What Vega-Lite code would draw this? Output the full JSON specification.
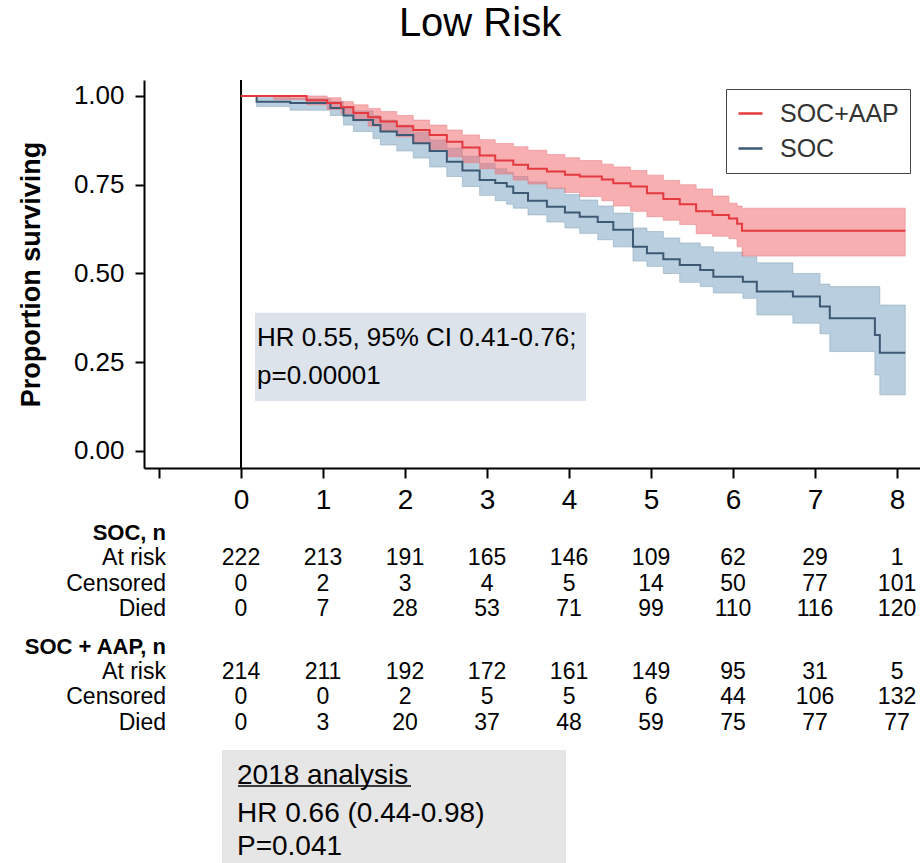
{
  "$schema": "https://vega.github.io/schema/vega-lite/v6.json",
  "width": 776,
  "height": 388,
  "autosize": {"type": "none"},
  "padding": {"left": 144, "top": 80, "right": 0, "bottom": 395},
  "background": "white",
  "title": {"text": "Low Risk", "fontSize": 40, "font": "Liberation Sans", "fontWeight": "normal", "color": "black", "anchor": "middle", "dx": -52, "dy": -31},
  "datasets": {
    "km": [
      {"arm": "SOC+AAP", "t": 0, "s": 1.0, "hi": 1.0, "lo": 1.0},
      {"arm": "SOC+AAP", "t": 0.4, "s": 1.0, "hi": 1.0, "lo": 0.99},
      {"arm": "SOC+AAP", "t": 0.8, "s": 0.988, "hi": 1.0, "lo": 0.975},
      {"arm": "SOC+AAP", "t": 1.05, "s": 0.98, "hi": 0.995, "lo": 0.962},
      {"arm": "SOC+AAP", "t": 1.22, "s": 0.968, "hi": 0.984, "lo": 0.95},
      {"arm": "SOC+AAP", "t": 1.37, "s": 0.952, "hi": 0.975, "lo": 0.93},
      {"arm": "SOC+AAP", "t": 1.55, "s": 0.94, "hi": 0.965, "lo": 0.915},
      {"arm": "SOC+AAP", "t": 1.7, "s": 0.928, "hi": 0.956, "lo": 0.902},
      {"arm": "SOC+AAP", "t": 1.9, "s": 0.915, "hi": 0.945, "lo": 0.885},
      {"arm": "SOC+AAP", "t": 2.1, "s": 0.904, "hi": 0.932, "lo": 0.868},
      {"arm": "SOC+AAP", "t": 2.3, "s": 0.89, "hi": 0.918, "lo": 0.85},
      {"arm": "SOC+AAP", "t": 2.51, "s": 0.871, "hi": 0.904, "lo": 0.829},
      {"arm": "SOC+AAP", "t": 2.7, "s": 0.855, "hi": 0.89, "lo": 0.812},
      {"arm": "SOC+AAP", "t": 2.91, "s": 0.832, "hi": 0.877, "lo": 0.795},
      {"arm": "SOC+AAP", "t": 3.1, "s": 0.818, "hi": 0.866, "lo": 0.78},
      {"arm": "SOC+AAP", "t": 3.32, "s": 0.806, "hi": 0.857, "lo": 0.763},
      {"arm": "SOC+AAP", "t": 3.5, "s": 0.795, "hi": 0.847, "lo": 0.752},
      {"arm": "SOC+AAP", "t": 3.73, "s": 0.787, "hi": 0.835, "lo": 0.74},
      {"arm": "SOC+AAP", "t": 3.95, "s": 0.778, "hi": 0.826, "lo": 0.728},
      {"arm": "SOC+AAP", "t": 4.13, "s": 0.773, "hi": 0.818, "lo": 0.717},
      {"arm": "SOC+AAP", "t": 4.4, "s": 0.765, "hi": 0.808, "lo": 0.705},
      {"arm": "SOC+AAP", "t": 4.54, "s": 0.754, "hi": 0.8, "lo": 0.69},
      {"arm": "SOC+AAP", "t": 4.75, "s": 0.745, "hi": 0.79, "lo": 0.675},
      {"arm": "SOC+AAP", "t": 4.95, "s": 0.726, "hi": 0.777, "lo": 0.66},
      {"arm": "SOC+AAP", "t": 5.15, "s": 0.71, "hi": 0.762, "lo": 0.65},
      {"arm": "SOC+AAP", "t": 5.35, "s": 0.695, "hi": 0.75, "lo": 0.638},
      {"arm": "SOC+AAP", "t": 5.55, "s": 0.675, "hi": 0.738, "lo": 0.612},
      {"arm": "SOC+AAP", "t": 5.75, "s": 0.665, "hi": 0.718, "lo": 0.605},
      {"arm": "SOC+AAP", "t": 5.95, "s": 0.655, "hi": 0.698, "lo": 0.598},
      {"arm": "SOC+AAP", "t": 6.05, "s": 0.64, "hi": 0.69, "lo": 0.575},
      {"arm": "SOC+AAP", "t": 6.11, "s": 0.62, "hi": 0.684, "lo": 0.549},
      {"arm": "SOC+AAP", "t": 8.1, "s": 0.62, "hi": 0.684, "lo": 0.549},
      {"arm": "SOC", "t": 0, "s": 1.0, "hi": 1.0, "lo": 1.0},
      {"arm": "SOC", "t": 0.19, "s": 0.984, "hi": 0.995, "lo": 0.97},
      {"arm": "SOC", "t": 0.6, "s": 0.98, "hi": 0.993, "lo": 0.96},
      {"arm": "SOC", "t": 1.09, "s": 0.966, "hi": 0.985, "lo": 0.945},
      {"arm": "SOC", "t": 1.25, "s": 0.945, "hi": 0.97, "lo": 0.918},
      {"arm": "SOC", "t": 1.37, "s": 0.932, "hi": 0.958, "lo": 0.9},
      {"arm": "SOC", "t": 1.61, "s": 0.918, "hi": 0.945, "lo": 0.88},
      {"arm": "SOC", "t": 1.7, "s": 0.9, "hi": 0.932, "lo": 0.862},
      {"arm": "SOC", "t": 1.9, "s": 0.89, "hi": 0.918, "lo": 0.845},
      {"arm": "SOC", "t": 2.1, "s": 0.867, "hi": 0.898, "lo": 0.825},
      {"arm": "SOC", "t": 2.3, "s": 0.845, "hi": 0.876, "lo": 0.8},
      {"arm": "SOC", "t": 2.51, "s": 0.815, "hi": 0.853, "lo": 0.773},
      {"arm": "SOC", "t": 2.7, "s": 0.79, "hi": 0.83, "lo": 0.745},
      {"arm": "SOC", "t": 2.91, "s": 0.763, "hi": 0.81, "lo": 0.72},
      {"arm": "SOC", "t": 3.1, "s": 0.755, "hi": 0.795, "lo": 0.705},
      {"arm": "SOC", "t": 3.24, "s": 0.745, "hi": 0.785, "lo": 0.695},
      {"arm": "SOC", "t": 3.32, "s": 0.727, "hi": 0.773, "lo": 0.684},
      {"arm": "SOC", "t": 3.5, "s": 0.705, "hi": 0.758, "lo": 0.665},
      {"arm": "SOC", "t": 3.73, "s": 0.688, "hi": 0.74, "lo": 0.645},
      {"arm": "SOC", "t": 3.95, "s": 0.672, "hi": 0.722, "lo": 0.628},
      {"arm": "SOC", "t": 4.13, "s": 0.66, "hi": 0.707, "lo": 0.613},
      {"arm": "SOC", "t": 4.35, "s": 0.645, "hi": 0.69, "lo": 0.595},
      {"arm": "SOC", "t": 4.54, "s": 0.623, "hi": 0.67, "lo": 0.575},
      {"arm": "SOC", "t": 4.78, "s": 0.575, "hi": 0.628, "lo": 0.535},
      {"arm": "SOC", "t": 4.95, "s": 0.557, "hi": 0.618, "lo": 0.52},
      {"arm": "SOC", "t": 5.15, "s": 0.54, "hi": 0.6, "lo": 0.5},
      {"arm": "SOC", "t": 5.35, "s": 0.524, "hi": 0.586, "lo": 0.475},
      {"arm": "SOC", "t": 5.6, "s": 0.51, "hi": 0.575, "lo": 0.463},
      {"arm": "SOC", "t": 5.76, "s": 0.491, "hi": 0.56, "lo": 0.445},
      {"arm": "SOC", "t": 6.12, "s": 0.477, "hi": 0.547, "lo": 0.43},
      {"arm": "SOC", "t": 6.29, "s": 0.449, "hi": 0.53, "lo": 0.383},
      {"arm": "SOC", "t": 6.73, "s": 0.435, "hi": 0.5, "lo": 0.36},
      {"arm": "SOC", "t": 7.06, "s": 0.407, "hi": 0.47, "lo": 0.33},
      {"arm": "SOC", "t": 7.18, "s": 0.374, "hi": 0.463, "lo": 0.28},
      {"arm": "SOC", "t": 7.73, "s": 0.327, "hi": 0.463, "lo": 0.214},
      {"arm": "SOC", "t": 7.79, "s": 0.277, "hi": 0.411, "lo": 0.158},
      {"arm": "SOC", "t": 8.1, "s": 0.277, "hi": 0.411, "lo": 0.158}
    ],
    "table": [
      {"row": 2, "year": 0, "n": 222}, {"row": 2, "year": 1, "n": 213}, {"row": 2, "year": 2, "n": 191}, {"row": 2, "year": 3, "n": 165}, {"row": 2, "year": 4, "n": 146}, {"row": 2, "year": 5, "n": 109}, {"row": 2, "year": 6, "n": 62}, {"row": 2, "year": 7, "n": 29}, {"row": 2, "year": 8, "n": 1},
      {"row": 3, "year": 0, "n": 0}, {"row": 3, "year": 1, "n": 2}, {"row": 3, "year": 2, "n": 3}, {"row": 3, "year": 3, "n": 4}, {"row": 3, "year": 4, "n": 5}, {"row": 3, "year": 5, "n": 14}, {"row": 3, "year": 6, "n": 50}, {"row": 3, "year": 7, "n": 77}, {"row": 3, "year": 8, "n": 101},
      {"row": 4, "year": 0, "n": 0}, {"row": 4, "year": 1, "n": 7}, {"row": 4, "year": 2, "n": 28}, {"row": 4, "year": 3, "n": 53}, {"row": 4, "year": 4, "n": 71}, {"row": 4, "year": 5, "n": 99}, {"row": 4, "year": 6, "n": 110}, {"row": 4, "year": 7, "n": 116}, {"row": 4, "year": 8, "n": 120},
      {"row": 6.5, "year": 0, "n": 214}, {"row": 6.5, "year": 1, "n": 211}, {"row": 6.5, "year": 2, "n": 192}, {"row": 6.5, "year": 3, "n": 172}, {"row": 6.5, "year": 4, "n": 161}, {"row": 6.5, "year": 5, "n": 149}, {"row": 6.5, "year": 6, "n": 95}, {"row": 6.5, "year": 7, "n": 31}, {"row": 6.5, "year": 8, "n": 5},
      {"row": 7.5, "year": 0, "n": 0}, {"row": 7.5, "year": 1, "n": 0}, {"row": 7.5, "year": 2, "n": 2}, {"row": 7.5, "year": 3, "n": 5}, {"row": 7.5, "year": 4, "n": 5}, {"row": 7.5, "year": 5, "n": 6}, {"row": 7.5, "year": 6, "n": 44}, {"row": 7.5, "year": 7, "n": 106}, {"row": 7.5, "year": 8, "n": 132},
      {"row": 8.5, "year": 0, "n": 0}, {"row": 8.5, "year": 1, "n": 3}, {"row": 8.5, "year": 2, "n": 20}, {"row": 8.5, "year": 3, "n": 37}, {"row": 8.5, "year": 4, "n": 48}, {"row": 8.5, "year": 5, "n": 59}, {"row": 8.5, "year": 6, "n": 75}, {"row": 8.5, "year": 7, "n": 77}, {"row": 8.5, "year": 8, "n": 77}
    ],
    "rowlabels": [
      {"row": 1, "label": "SOC, n", "kind": "header"},
      {"row": 2, "label": "At risk", "kind": "measure"},
      {"row": 3, "label": "Censored", "kind": "measure"},
      {"row": 4, "label": "Died", "kind": "measure"},
      {"row": 5.5, "label": "SOC + AAP, n", "kind": "header"},
      {"row": 6.5, "label": "At risk", "kind": "measure"},
      {"row": 7.5, "label": "Censored", "kind": "measure"},
      {"row": 8.5, "label": "Died", "kind": "measure"}
    ]
  },
  "layer": [
    {
      "layer": [
        {
          "data": {"values": [{}]},
          "mark": {"type": "rect", "fill": "#dce3ea"},
          "encoding": {
            "x": {"datum": 0.171, "type": "quantitative", "scale": {"domain": [-1.183, 8.28], "nice": false, "zero": false}, "title": null},
            "x2": {"datum": 4.207},
            "y": {"datum": 0.389, "type": "quantitative", "scale": {"domain": [-0.048, 1.045], "nice": false, "zero": false}, "title": null},
            "y2": {"datum": 0.141}
          }
        },
        {
          "data": {"values": [{}]},
          "mark": {"type": "text", "text": "HR 0.55, 95% CI 0.41-0.76;", "align": "left", "baseline": "middle", "fontSize": 26, "font": "Liberation Sans", "color": "black"},
          "encoding": {
            "x": {"datum": 0.195, "type": "quantitative", "scale": {"domain": [-1.183, 8.28], "nice": false, "zero": false}, "title": null},
            "y": {"datum": 0.317, "type": "quantitative", "scale": {"domain": [-0.048, 1.045], "nice": false, "zero": false}, "title": null}
          }
        },
        {
          "data": {"values": [{}]},
          "mark": {"type": "text", "text": "p=0.00001", "align": "left", "baseline": "middle", "fontSize": 26, "font": "Liberation Sans", "color": "black"},
          "encoding": {
            "x": {"datum": 0.195, "type": "quantitative", "scale": {"domain": [-1.183, 8.28], "nice": false, "zero": false}, "title": null},
            "y": {"datum": 0.21, "type": "quantitative", "scale": {"domain": [-0.048, 1.045], "nice": false, "zero": false}, "title": null}
          }
        },
        {
          "data": {"name": "km"},
          "transform": [{"filter": "datum.arm == 'SOC'"}],
          "mark": {"type": "area", "interpolate": "step-after", "fill": "#7fa8c4", "fillOpacity": 0.55, "stroke": "#7f9fb4", "strokeOpacity": 0.5, "strokeWidth": 1},
          "encoding": {
            "x": {"field": "t", "type": "quantitative", "title": null,
              "scale": {"domain": [-1.183, 8.28], "nice": false, "zero": false},
              "axis": {"values": [-1, 0, 1, 2, 3, 4, 5, 6, 7, 8], "format": "d", "tickSize": 10, "labelFontSize": 28, "labelPadding": 8, "labelExpr": "datum.value < 0 ? '' : datum.label", "title": null}},
            "y": {"field": "hi", "type": "quantitative",
              "scale": {"domain": [-0.048, 1.045], "nice": false, "zero": false},
              "axis": {"values": [0, 0.25, 0.5, 0.75, 1], "format": ".2f", "tickSize": 9, "labelFontSize": 26, "labelPadding": 11, "title": "Proportion surviving", "titleFontSize": 27, "titleFontWeight": "bold", "titleFont": "Liberation Sans", "titleColor": "black", "titleX": -113, "titleY": 194, "titleAngle": -90, "titleAlign": "center", "titleBaseline": "middle"}},
            "y2": {"field": "lo"}
          }
        },
        {
          "data": {"name": "km"},
          "transform": [{"filter": "datum.arm == 'SOC+AAP'"}],
          "mark": {"type": "area", "interpolate": "step-after", "fill": "#f26d72", "fillOpacity": 0.55, "stroke": "#e87a7e", "strokeOpacity": 0.5, "strokeWidth": 1},
          "encoding": {
            "x": {"field": "t", "type": "quantitative", "title": null, "scale": {"domain": [-1.183, 8.28], "nice": false, "zero": false}},
            "y": {"field": "hi", "type": "quantitative", "scale": {"domain": [-0.048, 1.045], "nice": false, "zero": false}},
            "y2": {"field": "lo"}
          }
        },
        {
          "data": {"values": [{}]},
          "mark": {"type": "rule", "color": "black", "strokeWidth": 2},
          "encoding": {
            "x": {"datum": 0, "type": "quantitative", "scale": {"domain": [-1.183, 8.28], "nice": false, "zero": false}, "title": null}
          }
        },
        {
          "data": {"name": "km"},
          "transform": [{"filter": "datum.arm == 'SOC'"}],
          "mark": {"type": "line", "interpolate": "step-after", "strokeWidth": 2},
          "encoding": {
            "x": {"field": "t", "type": "quantitative", "title": null, "scale": {"domain": [-1.183, 8.28], "nice": false, "zero": false}},
            "y": {"field": "s", "type": "quantitative", "scale": {"domain": [-0.048, 1.045], "nice": false, "zero": false}},
            "stroke": {"field": "arm", "type": "nominal", "scale": {"domain": ["SOC+AAP", "SOC"], "range": ["#e4393e", "#3d5974"]},
              "legend": {"title": null, "orient": "none", "legendX": 582, "legendY": 9, "symbolType": "stroke", "symbolSize": 576, "symbolStrokeWidth": 2.5, "labelFontSize": 25, "labelFont": "Liberation Sans", "labelColor": "#333", "strokeColor": "#444", "padding": 11, "rowPadding": 8, "labelOffset": 16}}
          }
        },
        {
          "data": {"name": "km"},
          "transform": [{"filter": "datum.arm == 'SOC+AAP'"}],
          "mark": {"type": "line", "interpolate": "step-after", "strokeWidth": 2},
          "encoding": {
            "x": {"field": "t", "type": "quantitative", "title": null, "scale": {"domain": [-1.183, 8.28], "nice": false, "zero": false}},
            "y": {"field": "s", "type": "quantitative", "scale": {"domain": [-0.048, 1.045], "nice": false, "zero": false}},
            "stroke": {"field": "arm", "type": "nominal", "scale": {"domain": ["SOC+AAP", "SOC"], "range": ["#e4393e", "#3d5974"]}}
          }
        }
      ]
    },
    {
      "layer": [
        {
          "data": {"name": "table"},
          "mark": {"type": "text", "align": "center", "baseline": "middle", "fontSize": 23, "font": "Liberation Sans", "color": "black"},
          "encoding": {
            "x": {"field": "year", "type": "quantitative", "title": null, "scale": {"domain": [-1.183, 8.28], "nice": false, "zero": false}},
            "y": {"field": "row", "type": "quantitative", "scale": {"domain": [1, 8.5], "range": [453, 642.75], "nice": false, "zero": false}, "axis": null},
            "text": {"field": "n", "type": "quantitative"}
          }
        },
        {
          "data": {"name": "rowlabels"},
          "transform": [{"filter": "datum.kind == 'measure'"}],
          "mark": {"type": "text", "align": "right", "baseline": "middle", "fontSize": 23, "font": "Liberation Sans", "color": "black"},
          "encoding": {
            "x": {"datum": -0.915, "type": "quantitative", "title": null, "scale": {"domain": [-1.183, 8.28], "nice": false, "zero": false}},
            "y": {"field": "row", "type": "quantitative", "scale": {"domain": [1, 8.5], "range": [453, 642.75], "nice": false, "zero": false}, "axis": null},
            "text": {"field": "label", "type": "nominal"}
          }
        },
        {
          "data": {"name": "rowlabels"},
          "transform": [{"filter": "datum.kind == 'header'"}],
          "mark": {"type": "text", "align": "right", "baseline": "middle", "fontSize": 22, "fontWeight": "bold", "font": "Liberation Sans", "color": "black"},
          "encoding": {
            "x": {"datum": -0.915, "type": "quantitative", "title": null, "scale": {"domain": [-1.183, 8.28], "nice": false, "zero": false}},
            "y": {"field": "row", "type": "quantitative", "scale": {"domain": [1, 8.5], "range": [453, 642.75], "nice": false, "zero": false}, "axis": null},
            "text": {"field": "label", "type": "nominal"}
          }
        },
        {
          "data": {"values": [{}]},
          "mark": {"type": "rect", "fill": "#e6e6e6"},
          "encoding": {
            "x": {"datum": -0.232, "type": "quantitative", "title": null, "scale": {"domain": [-1.183, 8.28], "nice": false, "zero": false}},
            "x2": {"datum": 3.963},
            "y": {"datum": 9.577, "type": "quantitative", "scale": {"domain": [1, 8.5], "range": [453, 642.75], "nice": false, "zero": false}, "axis": null},
            "y2": {"datum": 14.1}
          }
        },
        {
          "data": {"values": [{}]},
          "mark": {"type": "text", "text": "2018 analysis", "align": "left", "baseline": "middle", "fontSize": 28, "font": "Liberation Sans", "color": "black"},
          "encoding": {
            "x": {"datum": -0.049, "type": "quantitative", "title": null, "scale": {"domain": [-1.183, 8.28], "nice": false, "zero": false}},
            "y": {"datum": 10.62, "type": "quantitative", "scale": {"domain": [1, 8.5], "range": [453, 642.75], "nice": false, "zero": false}, "axis": null}
          }
        },
        {
          "data": {"values": [{}]},
          "mark": {"type": "rule", "color": "black", "strokeWidth": 1.5},
          "encoding": {
            "x": {"datum": -0.037, "type": "quantitative", "title": null, "scale": {"domain": [-1.183, 8.28], "nice": false, "zero": false}},
            "x2": {"datum": 2.073},
            "y": {"datum": 11.0, "type": "quantitative", "scale": {"domain": [1, 8.5], "range": [453, 642.75], "nice": false, "zero": false}, "axis": null}
          }
        },
        {
          "data": {"values": [{}]},
          "mark": {"type": "text", "text": "HR 0.66 (0.44-0.98)", "align": "left", "baseline": "middle", "fontSize": 28, "font": "Liberation Sans", "color": "black"},
          "encoding": {
            "x": {"datum": -0.049, "type": "quantitative", "title": null, "scale": {"domain": [-1.183, 8.28], "nice": false, "zero": false}},
            "y": {"datum": 12.1, "type": "quantitative", "scale": {"domain": [1, 8.5], "range": [453, 642.75], "nice": false, "zero": false}, "axis": null}
          }
        },
        {
          "data": {"values": [{}]},
          "mark": {"type": "text", "text": "P=0.041", "align": "left", "baseline": "middle", "fontSize": 28, "font": "Liberation Sans", "color": "black"},
          "encoding": {
            "x": {"datum": -0.049, "type": "quantitative", "title": null, "scale": {"domain": [-1.183, 8.28], "nice": false, "zero": false}},
            "y": {"datum": 13.4, "type": "quantitative", "scale": {"domain": [1, 8.5], "range": [453, 642.75], "nice": false, "zero": false}, "axis": null}
          }
        }
      ]
    }
  ],
  "resolve": {"scale": {"y": "independent"}},
  "config": {
    "view": {"stroke": null},
    "font": "Liberation Sans",
    "axis": {"domainColor": "black", "domainWidth": 2, "tickColor": "black", "tickWidth": 2, "labelColor": "black", "labelFont": "Liberation Sans", "grid": false}
  }
}
